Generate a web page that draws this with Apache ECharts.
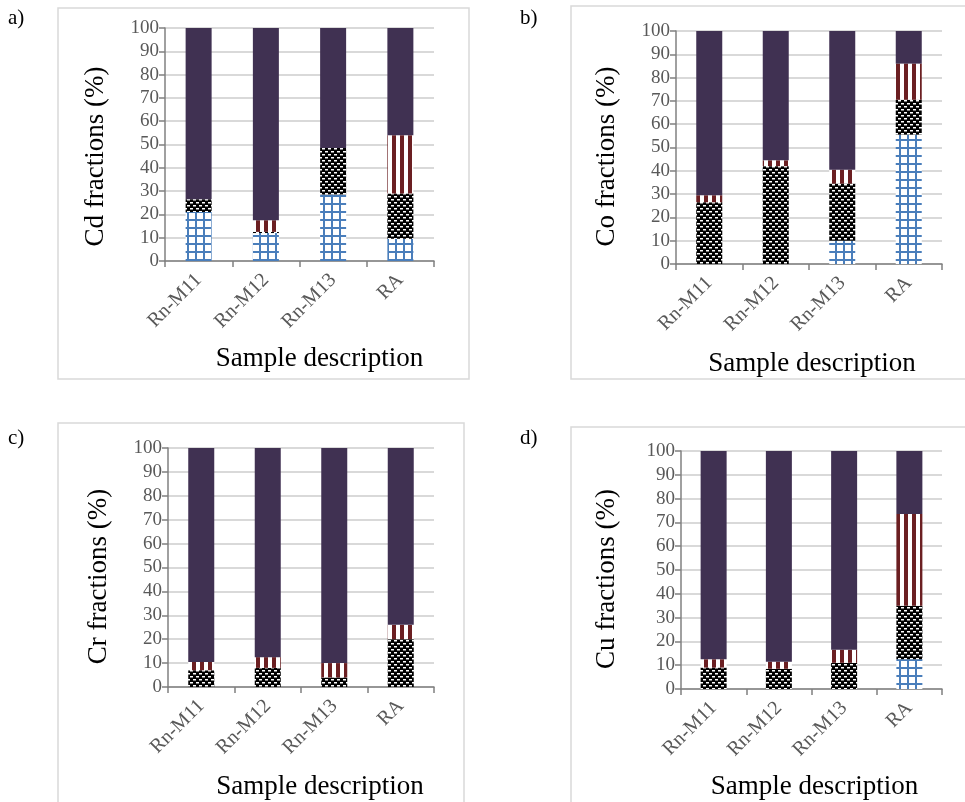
<!DOCTYPE html>
<html>
<head>
<meta charset="utf-8">
<script src="https://cdn.jsdelivr.net/npm/echarts@6/dist/echarts.min.js"></script>
<style>
  html, body { margin: 0; padding: 0; background: #fff; }
  #chart { width: 965px; height: 802px; }
</style>
</head>
<body>
<div id="chart"></div>
<script>
// 样品
const categories = ['Rn-M11', 'Rn-M12', 'Rn-M13', 'RA']
const yTicks = [0, 10, 20, 30, 40, 50, 60, 70, 80, 90, 100]

// 四个金属的分级 (%)，从下往上：网格 / 圆点 / 竖条 / 实色
const cdGrid = [21, 12, 28.5, 9.5]
const cdDots = [5.5, 0.5, 20, 19.5]
const cdStripes = [0, 5, 0, 25]
const cdSolid = [73.5, 82.5, 51.5, 46]

const coGrid = [0, 0, 10, 55.5]
const coDots = [26.5, 42, 24.5, 15]
const coStripes = [3, 2.5, 6, 15.5]
const coSolid = [70.5, 55.5, 59.5, 14]

const crGrid = [0, 0, 0, 0]
const crDots = [7, 8, 4, 20]
const crStripes = [3.5, 4.5, 6, 6]
const crSolid = [89.5, 87.5, 90, 74]

const cuGrid = [0, 0, 0, 12.5]
const cuDots = [9, 8.5, 11, 22.5]
const cuStripes = [3.5, 3, 5.5, 38.5]
const cuSolid = [87.5, 88.5, 83.5, 26.5]

const serif = 'Liberation Serif'

// 图案填充
function makeTile (w, h, draw) {
  const c = document.createElement('canvas')
  c.width = w
  c.height = h
  draw(c.getContext('2d'))
  return c
}
const gridTile = makeTile(8, 8, (ctx) => {
  ctx.fillStyle = '#fff'
  ctx.fillRect(0, 0, 8, 8)
  ctx.fillStyle = '#4a7ebb'
  ctx.fillRect(3, 0, 2, 8)
  ctx.fillRect(0, 3, 8, 2)
})
const dotTile = makeTile(6, 6, (ctx) => {
  ctx.fillStyle = '#000'
  ctx.fillRect(0, 0, 6, 6)
  ctx.fillStyle = '#fff'
  ctx.fillRect(1, 1, 3, 1.5)
  ctx.fillRect(4, 4, 2, 1.5)
  ctx.fillRect(0, 4, 1, 1.5)
})
const stripeTile = makeTile(8, 8, (ctx) => {
  ctx.fillStyle = '#fff'
  ctx.fillRect(0, 0, 8, 8)
  ctx.fillStyle = '#6b1f22'
  ctx.fillRect(0, 0, 4, 8)
})
const fills = [
  { image: gridTile, repeat: 'repeat' },
  { image: dotTile, repeat: 'repeat' },
  { image: stripeTile, repeat: 'repeat' },
  '#403152'
]

// xPad: 轴标题向右移动；yPad: 轴标题向下移动
const panels = [
  { name: 'Cd fractions (%)', grid: { left: 165, top: 28, width: 269, height: 233 }, yGap: 56, xGap: 84, xPad: 40, yPad: 24, data: [cdGrid, cdDots, cdStripes, cdSolid] },
  { name: 'Co fractions (%)', grid: { left: 676, top: 31, width: 266, height: 233 }, yGap: 56, xGap: 86, xPad: 6, yPad: 18, data: [coGrid, coDots, coStripes, coSolid] },
  { name: 'Cr fractions (%)', grid: { left: 168, top: 448, width: 266, height: 239 }, yGap: 56, xGap: 86, xPad: 38, yPad: 18, data: [crGrid, crDots, crStripes, crSolid] },
  { name: 'Cu fractions (%)', grid: { left: 681, top: 451, width: 261, height: 238 }, yGap: 61, xGap: 84, xPad: 6, yPad: 18, data: [cuGrid, cuDots, cuStripes, cuSolid] }
]

const chart = echarts.init(document.getElementById('chart'))

const option = {
  animation: false,
  grid: panels.map((p) => p.grid),
  xAxis: panels.map((p, i) => ({
    type: 'category',
    gridIndex: i,
    data: categories,
    name: 'Sample description',
    nameLocation: 'middle',
    nameGap: p.xGap,
    nameTextStyle: { color: '#000', fontFamily: serif, fontSize: 27, padding: [0, 0, 0, p.xPad] },
    axisLine: { lineStyle: { color: '#808080', width: 1.5 } },
    axisTick: { show: true, length: 6, lineStyle: { color: '#808080', width: 1.5 } },
    axisLabel: { rotate: 45, color: '#595959', fontFamily: serif, fontSize: 20, margin: 16 }
  })),
  yAxis: panels.map((p, i) => ({
    type: 'value',
    gridIndex: i,
    min: yTicks[0],
    max: yTicks[yTicks.length - 1],
    interval: 10,
    name: p.name,
    nameLocation: 'middle',
    nameGap: p.yGap,
    nameTextStyle: { color: '#000', fontFamily: serif, fontSize: 27, padding: [0, p.yPad, 0, 0] },
    axisLine: { show: true, lineStyle: { color: '#808080', width: 1.5 } },
    axisTick: { show: true, length: 6, lineStyle: { color: '#808080', width: 1.5 } },
    axisLabel: { color: '#595959', fontFamily: serif, fontSize: 19, margin: 6 },
    splitLine: { lineStyle: { color: '#d9d9d9', width: 2 } }
  })),
  series: panels.flatMap((p, i) =>
    p.data.map((vals, k) => ({
      type: 'bar',
      xAxisIndex: i,
      yAxisIndex: i,
      stack: 'p' + i,
      barWidth: 26,
      itemStyle: { color: fills[k] },
      data: vals
    }))
  ),
  graphic: [
    { type: 'rect', shape: { x: 58, y: 8, width: 411, height: 371 }, style: { fill: 'none', stroke: '#d9d9d9', lineWidth: 1.5 } },
    { type: 'rect', shape: { x: 571, y: 6, width: 400, height: 373 }, style: { fill: 'none', stroke: '#d9d9d9', lineWidth: 1.5 } },
    { type: 'rect', shape: { x: 58, y: 423, width: 406, height: 390 }, style: { fill: 'none', stroke: '#d9d9d9', lineWidth: 1.5 } },
    { type: 'rect', shape: { x: 571, y: 427, width: 400, height: 390 }, style: { fill: 'none', stroke: '#d9d9d9', lineWidth: 1.5 } },
    { type: 'text', left: 8, top: 8, style: { text: 'a)', fill: '#000', fontFamily: serif, fontSize: 21 } },
    { type: 'text', left: 520, top: 8, style: { text: 'b)', fill: '#000', fontFamily: serif, fontSize: 21 } },
    { type: 'text', left: 8, top: 428, style: { text: 'c)', fill: '#000', fontFamily: serif, fontSize: 21 } },
    { type: 'text', left: 520, top: 428, style: { text: 'd)', fill: '#000', fontFamily: serif, fontSize: 21 } }
  ]
}

chart.setOption(option)
</script>
</body>
</html>
